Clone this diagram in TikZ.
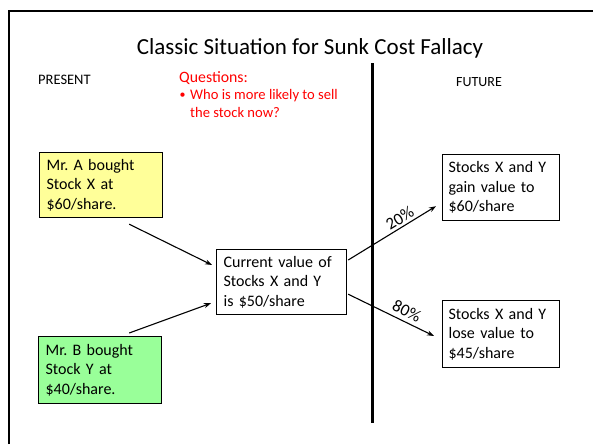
\documentclass[tikz,border=0pt]{standalone}
\usepackage{fontspec}
\setmainfont{Carlito}
\frenchspacing
\usetikzlibrary{arrows.meta,calc}
\definecolor{boxyellow}{RGB}{255,255,153}
\definecolor{boxgreen}{RGB}{153,255,153}
\definecolor{qred}{RGB}{255,0,0}
\begin{document}
\begin{tikzpicture}[x=1pt,y=-1pt,
  box/.style={draw=black,line width=1.2pt,anchor=north west,align=left,
    inner xsep=7pt,inner ysep=0pt,font=\fontsize{16}{19.5}\selectfont},
  arr/.style={line width=1.1pt,-{Stealth[length=7pt,width=5pt]}},
  lbl/.style={font=\fontsize{17}{20}\selectfont,sloped,above,inner sep=2.5pt},
  plain/.style={anchor=base west,inner sep=0pt}]
\useasboundingbox (0,0) rectangle (593,444);
% slide frame
\draw[line width=2pt] (8.5,444) -- (8.5,11) -- (593,11);
% title and headings
\node[anchor=base,inner sep=0pt,font=\fontsize{23}{27}\selectfont] (title) at (310,55) {Classic Situation for Sunk Cost Fallacy};
\node[plain,font=\fontsize{14.5}{17}\selectfont] (present) at (38,84) {PRESENT};
\node[plain,font=\fontsize{14}{17}\selectfont] (future) at (456,86) {FUTURE};
\node[plain,font=\fontsize{15.8}{18}\selectfont,text=qred] (q) at (179,82.5) {Questions:};
\node[plain,font=\fontsize{12}{17}\selectfont,text=qred] (bul) at (179.5,98.5) {•};
\node[plain,font=\fontsize{14.6}{17}\selectfont,text=qred] (q1) at (190,99.3) {Who is more likely to sell};
\node[plain,font=\fontsize{14.6}{17}\selectfont,text=qred] (q2) at (190,117.3) {the stock now?};
% divider
\draw[line width=3pt] (372,63) -- (372,423);
% boxes
\node[box,fill=boxyellow,text width=109pt,minimum height=65pt] (A) at (39,152) {Mr. A bought\\Stock X at\\\$60/share.};
\node[box,fill=boxgreen,text width=109pt,minimum height=67pt] (B) at (38,336) {Mr. B bought\\Stock Y at\\\$40/share.};
\node[box,fill=white,text width=116pt,minimum height=65pt] (C) at (216,249) {Current value of\\Stocks X and Y\\is \$50/share};
\node[box,fill=white,inner xsep=6pt,text width=105pt,minimum height=66pt] (G) at (442,154) {Stocks X and Y\\gain value to\\\$60/share};
\node[box,fill=white,inner xsep=6pt,text width=105pt,minimum height=67pt] (L) at (442,300) {Stocks X and Y\\lose value to\\\$45/share};
% connectors
\draw[arr] ([shift={(-34,6)}]A.south east) -- ([shift={(-4,16)}]C.north west);
\draw[arr] ([shift={(-33,-3)}]B.north east) -- ([shift={(-5,-12)}]C.south west);
\draw[arr] ([shift={(1,11)}]C.north east) -- node[lbl,pos=0.64] {20\%} ([shift={(-6,-15)}]G.south west);
\draw[arr] ([shift={(1,-21)}]C.south east) -- node[lbl,pos=0.63,inner sep=4pt] {80\%} ([shift={(-8,36)}]L.north west);
\end{tikzpicture}
\end{document}
